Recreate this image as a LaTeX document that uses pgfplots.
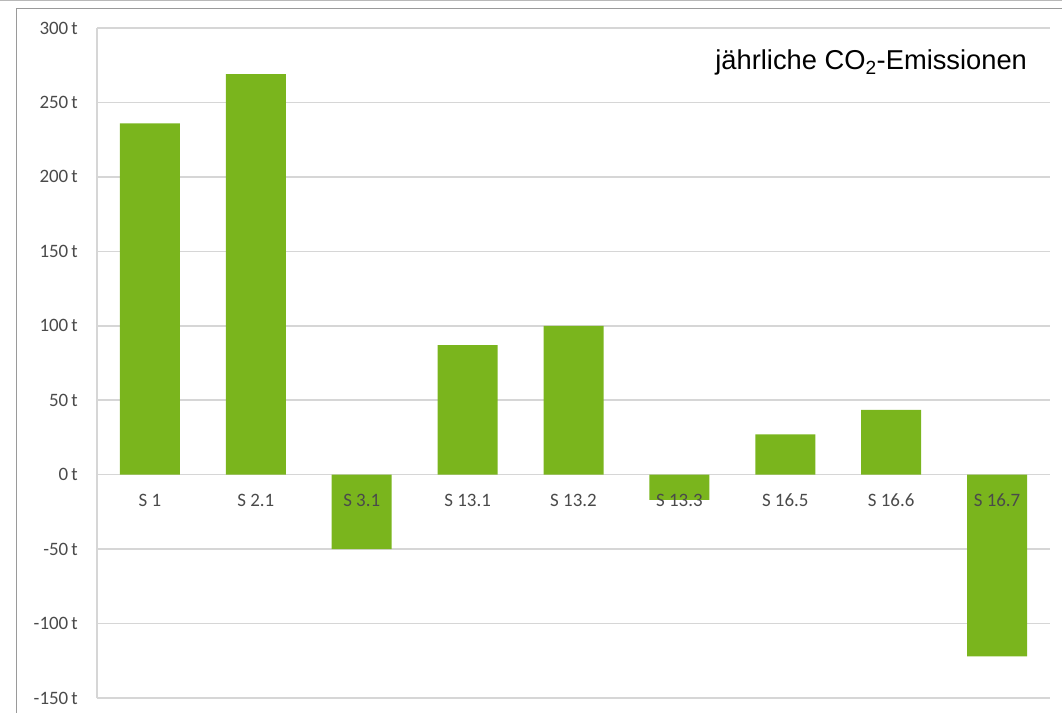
\documentclass[border=0pt]{standalone}
\usepackage{pgfplots}
\pgfplotsset{compat=1.18}
\usepackage{fontspec}
\setmainfont{Carlito}
\newfontfamily\arial{Liberation Sans}
\definecolor{bargreen}{HTML}{7AB51D}
\definecolor{gridgray}{HTML}{D6D6D6}
\definecolor{ticktext}{HTML}{4A4A4A}
\definecolor{framegray}{HTML}{9A9A9A}
\pgfplotsset{
  common/.style={
    at={(97bp,-698bp)}, anchor=south west,
    scale only axis, width=953bp, height=670bp,
    xmin=-0.5, xmax=8.5, ymin=-150, ymax=300,
    axis y line=left, axis x line=middle,
    major tick length=0pt,
    ticklabel style={font=\fontsize{19}{22}\selectfont, text=ticktext},
    yticklabel style={anchor=east, inner sep=0pt, xshift=-19bp},
    xticklabel style={anchor=north, inner sep=0pt, yshift=-19bp},
    clip=false,
  },
}
\begin{document}
\begin{tikzpicture}[x=1bp,y=1bp]
\useasboundingbox (0,0) rectangle (1062,-713);
\draw[framegray!70, line width=1.2bp] (0,-0.6) -- (1062,-0.6);
\draw[framegray, line width=1.5bp] (16.5,-713) -- (16.5,-8.5) -- (1062,-8.5);
\begin{axis}[
  common,
  axis line style={gridgray, line width=1.5bp, -},
  ymajorgrids, grid style={gridgray, line width=1.5bp},
  ytick={-150,-100,-50,0,50,100,150,200,250,300},
  yticklabels={-150\,t,-100\,t,-50\,t,0\,t,50\,t,100\,t,150\,t,200\,t,250\,t,300\,t},
  xtick=\empty,
  ybar, bar width=60bp,
]
\addplot[fill=bargreen, draw=none] coordinates {
  (0,236) (1,269) (2,-50) (3,87) (4,100) (5,-17) (6,27) (7,43.5) (8,-122)
};
\node[anchor=east, inner sep=0pt, font=\arial\fontsize{27.4}{32}\selectfont] at (rel axis cs:0.976,0.948) {jährliche CO\textsubscript{2}-Emissionen};
\end{axis}
\begin{axis}[
  common,
  axis line style={draw=none},
  ytick=\empty,
  xtick={0,1,2,3,4,5,6,7,8},
  xticklabels={S 1,S 2.1,S 3.1,S 13.1,S 13.2,S 13.3,S 16.5,S 16.6,S 16.7},
]
\end{axis}
\end{tikzpicture}
\end{document}
